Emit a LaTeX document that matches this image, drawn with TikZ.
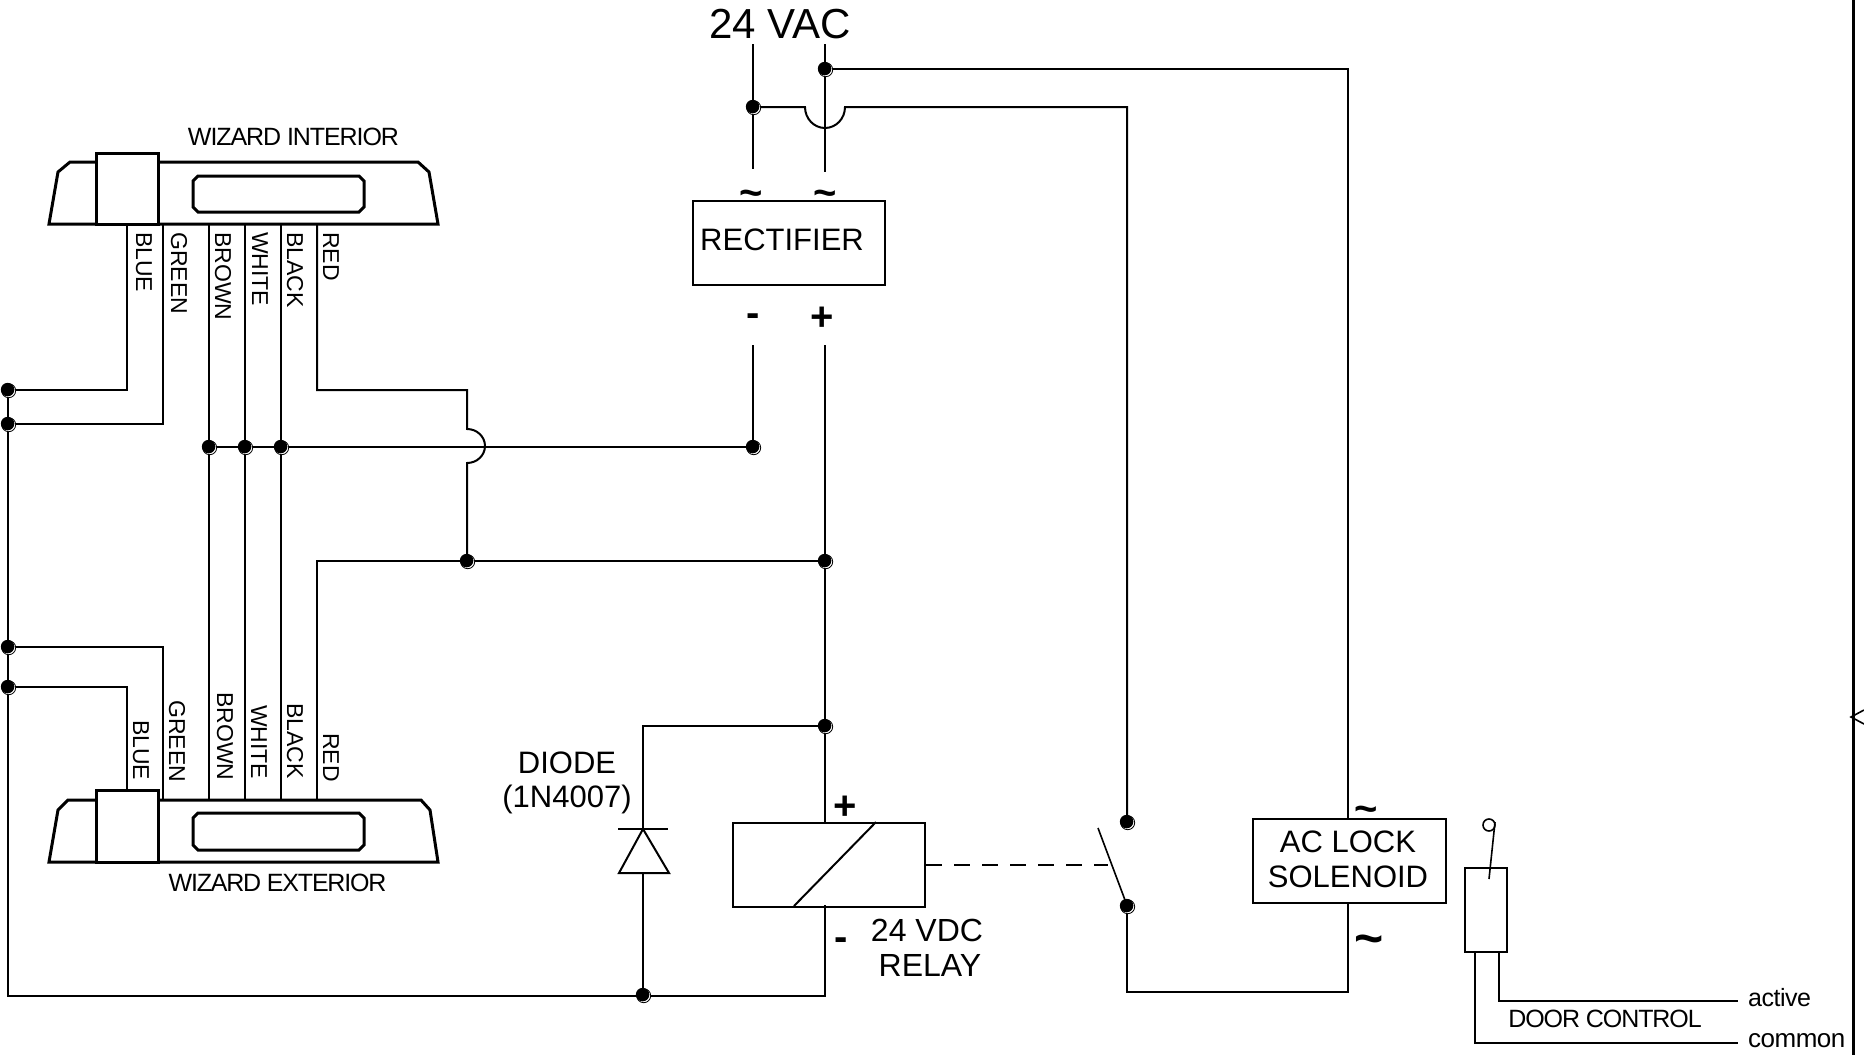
\documentclass[tikz,border=0pt]{standalone}
\usepackage{fontspec}
\setmainfont{Liberation Sans}
\newfontfamily\tightA[LetterSpace=-4.3]{Liberation Sans}
\newfontfamily\tightB[LetterSpace=-4.8]{Liberation Sans}
\newfontfamily\tightC[LetterSpace=-2]{Liberation Sans}
\usetikzlibrary{calc}
\tikzset{
  wire/.style={line width=2pt,line join=miter},
  thinw/.style={line width=1.6pt},
  body/.style={line width=3pt,line join=miter},
  box/.style={draw,line width=2pt,inner sep=0pt,anchor=north west},
  txt/.style={inner sep=0pt,font=\fontsize{31}{31}\selectfont,align=center},
  side/.style={inner sep=0pt,font=\fontsize{23}{23}\selectfont,rotate=-90,anchor=west},
  sym/.style={inner sep=0pt,font=\bfseries\fontsize{40}{40}\selectfont},
  bsym/.style={inner sep=0pt,font=\bfseries\fontsize{40}{40}\selectfont},
  dotb/.style={circle,fill=black,inner sep=0pt,minimum size=13.5pt},
  doto/.style={circle,draw=black,fill=white,line width=.8pt,inner sep=0pt,minimum size=14pt}
}
\newcommand{\junc}[2]{%
  \node[doto] (#1o) at ($(#2)+(.7,.7)$) {};
  \node[dotb] (#1) at ($(#2)+(-.4,-.4)$) {};}
\begin{document}
\begin{tikzpicture}[x=1pt,y=-1pt]
\useasboundingbox (0,0) rectangle (1864,1055);
% named points
\coordinate (vac1) at (753,44);
\coordinate (vac2) at (825,44);
\coordinate (j1) at (753,107);
\coordinate (j2) at (825,69);
\coordinate (rec1) at (753,169);
\coordinate (rec2) at (825,172);
\coordinate (m1) at (753,345);
\coordinate (p1) at (825,345);
\coordinate (jm) at (753,447);
\coordinate (jbr) at (209,447);
\coordinate (jwh) at (245,447);
\coordinate (jbl) at (281,447);
\coordinate (jr) at (467,561);
\coordinate (jp) at (825,561);
\coordinate (jd) at (825,726);
\coordinate (jg) at (643,995);
\coordinate (l1) at (8,390);
\coordinate (l2) at (8,424);
\coordinate (l3) at (8,647);
\coordinate (l4) at (8,687);
\coordinate (s1) at (1127,822);
\coordinate (s2) at (1127,906);
% wires
\draw[wire] (vac1) -- (rec1);
\draw[wire] (vac2) -- (rec2);
\draw[wire] (j2) -- (1348,69) -- (1348,819);
\draw[wire] (j1) -- (805,107) arc[start angle=180,end angle=360,radius=20pt,y radius=21pt] -- (1127,107) -- (s1);
\draw[wire] (s2) -- (1127,992) -- (1348,992) -- (1348,903);
\draw[wire] (m1) -- (jm) -- (jbr);
\draw[wire] (p1) -- (825,823);
\draw[wire] (825,905) -- (825,996) -- (8,996) -- (l1);
\draw[wire] (jg) -- (643,873);
\draw[wire] (643,829) -- (643,726) -- (jd);
\draw[wire] (jbr) -- (209,224);
\draw[wire] (jwh) -- (245,224);
\draw[wire] (jbl) -- (281,224);
\draw[wire] (jbr) -- (209,800);
\draw[wire] (jwh) -- (245,800);
\draw[wire] (jbl) -- (281,800);
\draw[wire] (l1) -- (127,390) -- (127,224);
\draw[wire] (l2) -- (163,424) -- (163,224);
\draw[wire] (l3) -- (163,647) -- (163,800);
\draw[wire] (l4) -- (127,687) -- (127,790);
\draw[wire] (317,224) -- (317,390) -- (467,390) -- (467,429) arc[start angle=90,end angle=-90,radius=18pt,y radius=17pt] -- (jr);
\draw[wire] (317,800) -- (317,561) -- (jp);
% interior device
\draw[body] (49,224) -- (58,172) -- (70,162) -- (418,162) -- (429,172) -- (438,224) -- cycle;
\draw[body,fill=white] (96,224) rectangle (158,153);
\draw[body] (198,176) -- (359,176) -- (364,181) -- (364,207) -- (359,212) -- (198,212) -- (193,207) -- (193,181) -- cycle;
% exterior device
\draw[body] (49,862) -- (58,810) -- (68,800) -- (421,800) -- (430,810) -- (438,862) -- cycle;
\draw[body,fill=white] (96,862) rectangle (158,790);
\draw[body] (198,813) -- (359,813) -- (364,818) -- (364,845) -- (359,850) -- (198,850) -- (193,845) -- (193,818) -- cycle;
% rectifier
\node[box,minimum width=192pt,minimum height=84pt] (rect) at (692,200) {};
\node[txt,anchor=west] (rectt) at (700,240) {RECTIFIER};
% relay
\node[box,minimum width=192pt,minimum height=84pt] (relay) at (732,822) {};
\draw[wire] (876,822) -- (794,906);
\draw[wire,dash pattern=on 16pt off 12pt] (relay.east) -- ($(relay.east)+(182,0)$);
\draw[thinw] (1098,828) -- (1125,900);
% solenoid
\node[box,minimum width=193pt,minimum height=84pt,align=center] (sol) at (1252,818) {};
\node[txt] (solt1) at (1348,842) {AC LOCK};
\node[txt] (solt2) at (1348,877) {SOLENOID};
% diode
\draw[wire] (618,829) -- (668,829);
\draw[wire] (643,829) -- (619,873) -- (669,873) -- cycle;
% door contact
\node[box,minimum width=42pt,minimum height=84pt] (door) at (1464,867) {};
\draw[wire] (1475,951) -- (1475,1043) -- (1738,1043);
\draw[wire] (1499,951) -- (1499,1001) -- (1738,1001);
\draw[thinw] (1489,879) -- (1495,822);
\draw[line width=1.6pt] (1489,825) circle (6);
% right rail
\draw[line width=3pt] (1853,0) -- (1853,1055);
\draw[line width=1.6pt] (1864,710) -- (1851,717) -- (1864,724);
% junctions
\junc{d1}{j1}\junc{d2}{j2}\junc{d3}{jm}\junc{d4}{jbr}\junc{d5}{jwh}\junc{d6}{jbl}
\junc{d7}{jr}\junc{d8}{jp}\junc{d9}{jd}\junc{d10}{jg}
\junc{d11}{l1}\junc{d12}{l2}\junc{d13}{l3}\junc{d14}{l4}\junc{d15}{s1}\junc{d16}{s2}
% labels
\node[inner sep=0pt,font=\fontsize{42}{42}\selectfont] (vac) at (780,24) {24 VAC};
\node[inner sep=0pt,font=\tightA\fontsize{25}{25}\selectfont] (wi) at (293.5,137) {WIZARD INTERIOR};
\node[inner sep=0pt,font=\tightB\fontsize{25}{25}\selectfont] (we) at (277.5,883) {WIZARD EXTERIOR};
\node[sym] (t1) at (751,198) {\char"7E};
\node[sym] (t2) at (825,198) {\char"7E};
\node[bsym] (mn) at (753,320) {-};
\node[bsym] (pl) at (822,319) {+};
\node[bsym] (pl2) at (845,808) {+};
\node[bsym] (mn2) at (841,944) {-};
\node[sym] (t3) at (1366,814) {\char"7E};
\node[sym,font=\bfseries\fontsize{50}{50}\selectfont] (t4) at (1369,945) {\char"7E};
\node[txt] (di) at (567,763) {DIODE};
\node[txt] (dn) at (567,799) {(1N4007)};
\node[txt,font=\fontsize{32}{32}\selectfont] (vd) at (927,930) {24 VDC};
\node[txt,font=\fontsize{32}{32}\selectfont] (rl) at (930,965) {RELAY};
\node[inner sep=0pt,font=\tightA\fontsize{25}{25}\selectfont] (dc) at (1605,1019) {DOOR CONTROL};
\node[inner sep=0pt,anchor=west,font=\tightC\fontsize{25}{25}\selectfont] (ac) at (1748,998) {active};
\node[inner sep=0pt,anchor=west,font=\tightC\fontsize{26}{26}\selectfont] (co) at (1748,1041) {common};
% side labels
\node[side] (a1) at (144,232) {BLUE};
\node[side] (a2) at (179,232) {GREEN};
\node[side] (a3) at (223,232) {BROWN};
\node[side] (a4) at (260,232) {WHITE};
\node[side] (a5) at (295,232) {BLACK};
\node[side] (a6) at (331,232) {RED};
\node[side] (b1) at (141,720) {BLUE};
\node[side] (b2) at (177,700) {GREEN};
\node[side] (b3) at (225,692) {BROWN};
\node[side] (b4) at (259,705) {WHITE};
\node[side] (b5) at (295,703) {BLACK};
\node[side] (b6) at (331,733) {RED};
\end{tikzpicture}
\end{document}
